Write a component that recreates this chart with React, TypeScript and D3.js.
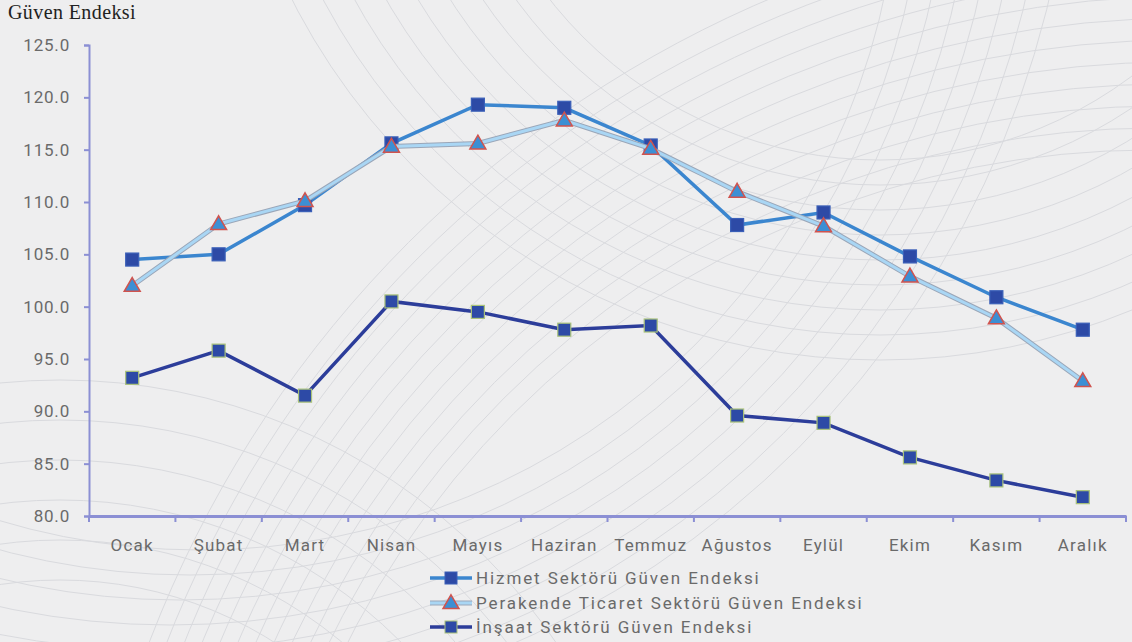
import React, { useEffect, useRef } from "react";
import * as d3 from "d3";

const months = ["Ocak", "Şubat", "Mart", "Nisan", "Mayıs", "Haziran", "Temmuz", "Ağustos", "Eylül", "Ekim", "Kasım", "Aralık"];
const hizmet = [104.5, 105.0, 109.7, 115.6, 119.3, 119.0, 115.4, 107.8, 109.0, 104.8, 100.9, 97.8];
const perakende = [102.0, 107.9, 110.1, 115.3, 115.6, 117.8, 115.1, 111.0, 107.7, 102.9, 98.9, 92.9];
const insaat = [93.2, 95.8, 91.5, 100.5, 99.5, 97.8, 98.2, 89.6, 88.9, 85.6, 83.4, 81.8];
const yTicks = [80, 85, 90, 95, 100, 105, 110, 115, 120, 125];
const seriesNames = ["Hizmet Sektörü Güven Endeksi", "Perakende Ticaret Sektörü Güven Endeksi", "İnşaat Sektörü Güven Endeksi"];

const W = 1132, H = 642;

export default function App() {
  const ref = useRef<SVGSVGElement>(null);
  useEffect(() => {
    const svg = d3.select(ref.current);
    svg.selectAll("*").remove();
    svg.append("rect").attr("width", W).attr("height", H).attr("fill", "#eeeeef");

    // decorative background curves
    const deco = svg.append("g").attr("fill", "none").attr("stroke", "#d9dade").attr("stroke-width", 1);
    for (let i = 0; i < 9; i++) {
      const r = 420 + i * 30;
      deco.append("circle").attr("cx", 880).attr("cy", -260 - i * 5).attr("r", r);
    }
    for (let i = 0; i < 12; i++) {
      const r = 900 + i * 22;
      deco.append("circle").attr("cx", 1150 + i * 6).attr("cy", 1050).attr("r", r);
    }
    for (let i = 0; i < 8; i++) {
      const r = 700 + i * 35;
      deco.append("circle").attr("cx", 200 - i * 10).attr("cy", -150 - i * 10).attr("r", r);
    }
    for (let i = 0; i < 6; i++) {
      const r = 400 + i * 40;
      deco.append("circle").attr("cx", 60).attr("cy", 980).attr("r", r);
    }

    const left = 89, right = 1126, top = 45, bottom = 516;
    const x = d3.scaleBand<string>().domain(months).range([left, right]);
    const y = d3.scaleLinear().domain([80, 125]).range([bottom, top]);
    const cx = (m: string) => (x(m) as number) + x.bandwidth() / 2;

    svg.append("text").attr("x", 8).attr("y", 19).attr("font-family", "Liberation Serif, serif")
      .attr("font-size", 20).attr("fill", "#222").attr("letter-spacing", 0.4).text("Güven Endeksi");

    const axisColor = "#8b8fd4";
    const fontFam = "Roboto, sans-serif";
    const yAxis = svg.append("g").attr("transform", `translate(${left},0)`)
      .call(d3.axisLeft(y).tickValues(yTicks).tickFormat(d3.format(".1f")).tickSize(5).tickPadding(14));
    yAxis.select(".domain").attr("stroke", axisColor).attr("stroke-width", 2);
    yAxis.selectAll(".tick line").attr("stroke", axisColor).attr("stroke-width", 2);
    yAxis.selectAll("text").attr("font-family", fontFam).attr("font-size", 17).attr("fill", "#6a6a6a").attr("letter-spacing", 0.8);

    const xAxis = svg.append("g").attr("transform", `translate(0,${bottom})`)
      .call(d3.axisBottom(x).tickSize(0).tickPadding(23));
    xAxis.select(".domain").attr("stroke", axisColor).attr("stroke-width", 3);
    xAxis.selectAll("text").attr("font-family", fontFam).attr("font-size", 17).attr("fill", "#6a6a6a").attr("letter-spacing", 1.2);
    const bounds = months.map((m) => x(m) as number).concat([right]);
    svg.append("g").selectAll("line").data(bounds).join("line")
      .attr("x1", (d) => d).attr("x2", (d) => d).attr("y1", bottom).attr("y2", bottom + 6)
      .attr("stroke", axisColor).attr("stroke-width", 2);

    const line = d3.line<number>().x((_, i) => cx(months[i])).y((d) => y(d));

    const drawSquares = (g: any, data: number[], stroke: string) => {
      g.selectAll("rect").data(data).join("rect")
        .attr("x", (_: number, i: number) => cx(months[i]) - 6.5).attr("y", (d: number) => y(d) - 6.5)
        .attr("width", 13).attr("height", 13).attr("fill", "#2d4aa6").attr("stroke", stroke).attr("stroke-width", 1.2);
    };
    const tri = d3.symbol().type(d3.symbolTriangle).size(110);

    // Insaat
    const gI = svg.append("g");
    gI.append("path").datum(insaat).attr("d", line).attr("fill", "none").attr("stroke", "#2c3d9a").attr("stroke-width", 3.5);
    drawSquares(gI, insaat, "#a9c27a");

    // Perakende
    const gP = svg.append("g");
    gP.append("path").datum(perakende).attr("d", line).attr("fill", "none").attr("stroke", "#9aa6b8").attr("stroke-width", 5);
    gP.append("path").datum(perakende).attr("d", line).attr("fill", "none").attr("stroke", "#a9d6f4").attr("stroke-width", 3);

    // Hizmet
    const gH = svg.append("g");
    gH.append("path").datum(hizmet).attr("d", line).attr("fill", "none").attr("stroke", "#3b86cf").attr("stroke-width", 3.5);
    drawSquares(gH, hizmet, "#3a5fb8");

    gP.raise();
    gP.selectAll("path.m").data(perakende).join("path").attr("class", "m")
      .attr("d", tri as any).attr("transform", (d, i) => `translate(${cx(months[i])},${y(d) + 1})`)
      .attr("fill", "#3c8fd4").attr("stroke", "#d0534e").attr("stroke-width", 1.5);

    // legend
    const lx = 430, ly = [578, 603, 627];
    const lg = svg.append("g");
    lg.append("line").attr("x1", lx).attr("x2", lx + 42).attr("y1", ly[0]).attr("y2", ly[0]).attr("stroke", "#3b86cf").attr("stroke-width", 3.5);
    lg.append("rect").attr("x", lx + 15).attr("y", ly[0] - 6).attr("width", 12).attr("height", 12).attr("fill", "#2d4aa6").attr("stroke", "#3a5fb8");
    lg.append("line").attr("x1", lx).attr("x2", lx + 42).attr("y1", ly[1]).attr("y2", ly[1]).attr("stroke", "#9aa6b8").attr("stroke-width", 5);
    lg.append("line").attr("x1", lx).attr("x2", lx + 42).attr("y1", ly[1]).attr("y2", ly[1]).attr("stroke", "#a9d6f4").attr("stroke-width", 3);
    lg.append("path").attr("d", tri as any).attr("transform", `translate(${lx + 21},${ly[1] + 1})`).attr("fill", "#3c8fd4").attr("stroke", "#d0534e").attr("stroke-width", 1.5);
    lg.append("line").attr("x1", lx).attr("x2", lx + 42).attr("y1", ly[2]).attr("y2", ly[2]).attr("stroke", "#2c3d9a").attr("stroke-width", 3.5);
    lg.append("rect").attr("x", lx + 15).attr("y", ly[2] - 6).attr("width", 12).attr("height", 12).attr("fill", "#2d4aa6").attr("stroke", "#a9c27a");
    lg.selectAll("text").data(seriesNames).join("text")
      .attr("x", lx + 46).attr("y", (_, i) => ly[i] + 6)
      .attr("font-family", fontFam).attr("font-size", 17).attr("fill", "#6a6a6a").attr("letter-spacing", 1.9)
      .text((d) => d);
  }, []);
  return (
    <div style={{ position: "fixed", left: 0, top: 0 }}>
      <svg ref={ref} width={W} height={H} style={{ display: "block" }} />
    </div>
  );
}
